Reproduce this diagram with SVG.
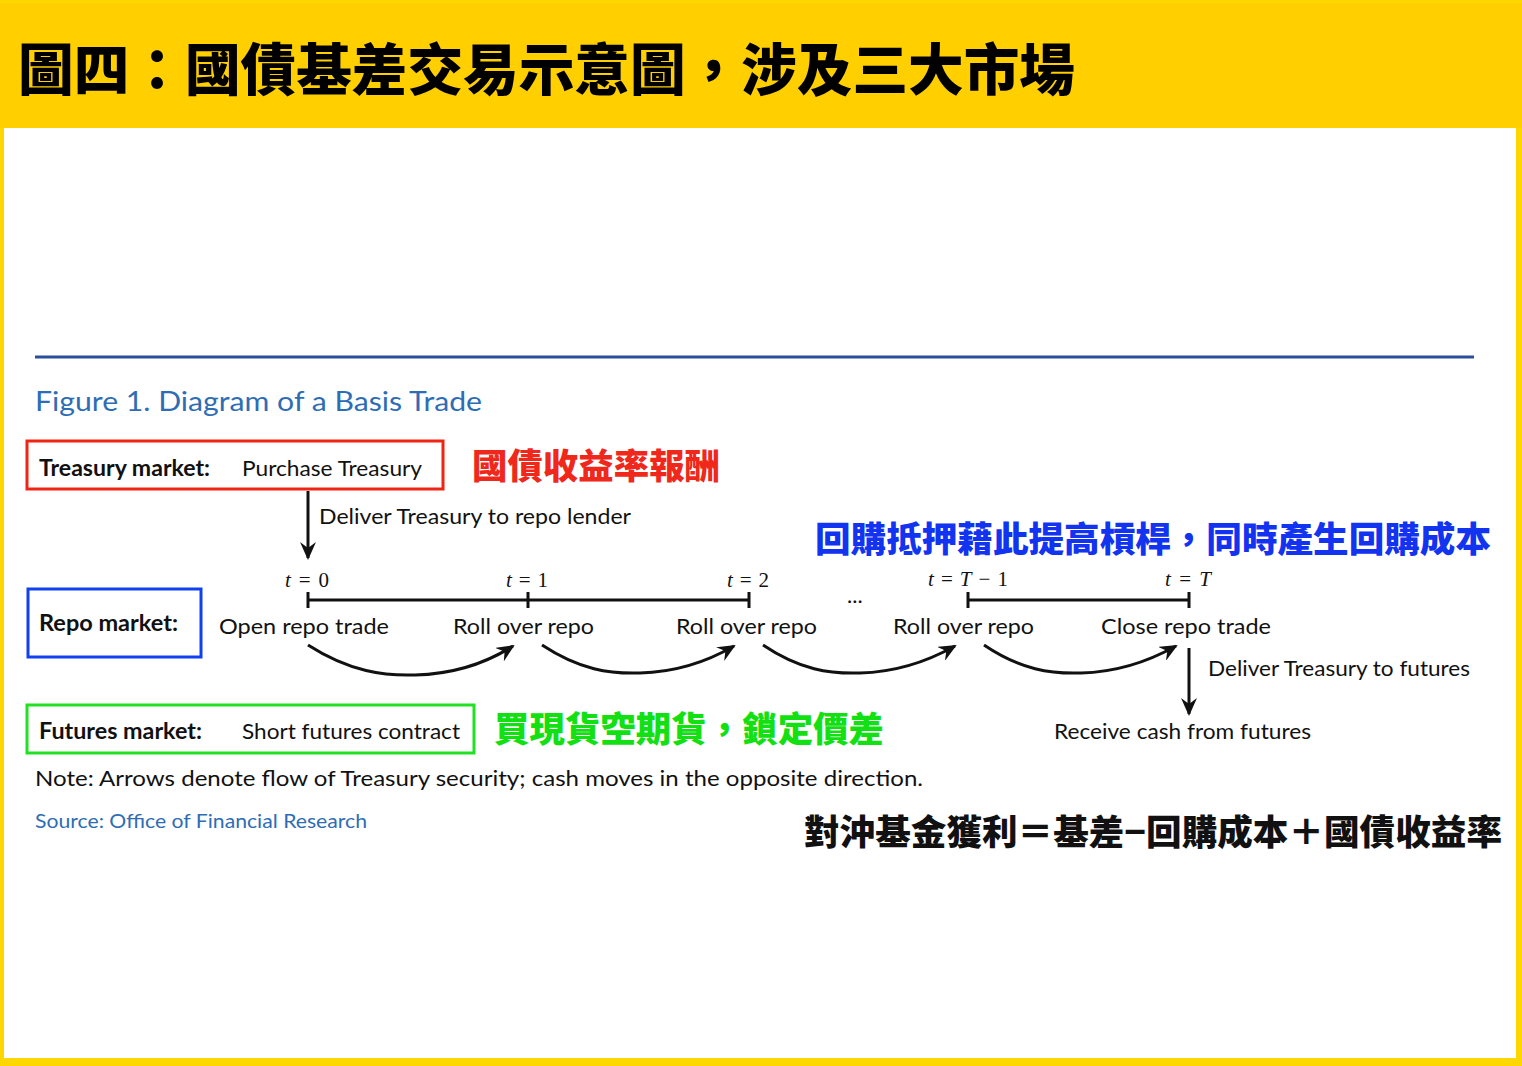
<svg xmlns="http://www.w3.org/2000/svg" width="1522" height="1066" viewBox="0 0 1522 1066">
<style>
.en{font-family:Lato,"Noto Sans","Liberation Sans",sans-serif;font-size:22px;fill:#111}
.bold{font-weight:bold}
.cjk{font-family:"Noto Sans CJK TC","Noto Sans CJK SC",sans-serif;font-weight:900}
.math{font-family:"Liberation Serif","DejaVu Serif",serif;font-size:21px;fill:#111}
.box{fill:none;stroke-width:3}
.ln{fill:none;stroke:#111;stroke-width:3}
.head{fill:#111;stroke:none}
</style>
<defs>
<marker id="ah" viewBox="0 0 18 16" refX="16" refY="8" markerWidth="18" markerHeight="16" markerUnits="userSpaceOnUse" orient="auto">
<path class="head" d="M0,0 L18,8 L0,16 L6,8 Z"/>
</marker>
</defs>
<rect x="0" y="0" width="1522" height="1066" fill="#FFD700"/>
<rect x="0" y="3" width="1522" height="125" fill="#FFCF00"/>
<rect x="4" y="128" width="1512" height="930" fill="#fff"/>
<g id="title">
<text class="cjk" x="18" y="90" font-size="56" textLength="1057" lengthAdjust="spacingAndGlyphs" fill="#000">圖四：國債基差交易示意圖，涉及三大市場</text>
</g>
<line x1="35" y1="357" x2="1474" y2="357" stroke="#2B4E9C" stroke-width="3"/>
<g id="fig-title"><text class="en" x="35" y="411" style="font-size:27px;fill:#2E6DB4" textLength="447" lengthAdjust="spacingAndGlyphs">Figure 1. Diagram of a Basis Trade</text></g>

<g id="treasury-market">
<rect class="box" x="27" y="441" width="416" height="48" stroke="#F02414"/>
<text class="en bold" x="39" y="476" textLength="171" lengthAdjust="spacingAndGlyphs">Treasury market:</text>
<text class="en" x="242" y="476" textLength="180" lengthAdjust="spacingAndGlyphs">Purchase Treasury</text>
</g>
<g id="note-red"><text class="cjk" x="472" y="479" font-size="35" fill="#F0281C" textLength="248" lengthAdjust="spacingAndGlyphs">國債收益率報酬</text></g>
<g id="note-blue"><text class="cjk" x="815" y="552" font-size="35" fill="#1234F0" textLength="676" lengthAdjust="spacingAndGlyphs">回購抵押藉此提高槓桿，同時產生回購成本</text></g>

<g id="repo-market">
<rect class="box" x="28" y="589" width="173" height="68" stroke="#1040F0"/>
<text class="en bold" x="39" y="631" textLength="139" lengthAdjust="spacingAndGlyphs">Repo market:</text>
</g>
<g id="timeline">
<text class="math" x="285" y="587" textLength="44" lengthAdjust="spacing"><tspan font-style="italic">t</tspan> = 0</text>
<text class="math" x="506" y="587" textLength="42" lengthAdjust="spacing"><tspan font-style="italic">t</tspan> = 1</text>
<text class="math" x="727" y="587" textLength="42" lengthAdjust="spacing"><tspan font-style="italic">t</tspan> = 2</text>
<text class="math" x="928" y="586" textLength="80" lengthAdjust="spacing"><tspan font-style="italic">t</tspan> = <tspan font-style="italic">T</tspan> − 1</text>
<text class="math" x="1165" y="586" textLength="46" lengthAdjust="spacing"><tspan font-style="italic">t</tspan> = <tspan font-style="italic">T</tspan></text>
<path class="ln" d="M308,600 H749 M308,592 V608 M528,592 V608 M749,592 V608 M968,600 H1189 M968,592 V608 M1189,592 V608"/>
<text class="en" x="847" y="603">...</text>
</g>
<g id="repo-steps">
<text class="en" x="219" y="634" textLength="170" lengthAdjust="spacingAndGlyphs">Open repo trade</text>
<text class="en" x="453" y="634" textLength="141" lengthAdjust="spacingAndGlyphs">Roll over repo</text>
<text class="en" x="676" y="634" textLength="141" lengthAdjust="spacingAndGlyphs">Roll over repo</text>
<text class="en" x="893" y="634" textLength="141" lengthAdjust="spacingAndGlyphs">Roll over repo</text>
<text class="en" x="1101" y="634" textLength="170" lengthAdjust="spacingAndGlyphs">Close repo trade</text>
</g>
<g id="futures-market">
<rect class="box" x="27" y="705" width="447" height="48" stroke="#22E022"/>
<text class="en bold" x="39" y="739" textLength="163" lengthAdjust="spacingAndGlyphs">Futures market:</text>
<text class="en" x="242" y="739" textLength="218" lengthAdjust="spacingAndGlyphs">Short futures contract</text>
</g>
<g id="note-green"><text class="cjk" x="494" y="742" font-size="35" fill="#12E012" textLength="390" lengthAdjust="spacingAndGlyphs">買現貨空期貨，鎖定價差</text></g>
<g id="futures-delivery">
<text class="en" x="1208" y="676" textLength="262" lengthAdjust="spacingAndGlyphs">Deliver Treasury to futures</text>
<text class="en" x="1054" y="739" textLength="257" lengthAdjust="spacingAndGlyphs">Receive cash from futures</text>
</g>
<g id="connectors">
<line class="ln" x1="308" y1="491" x2="308" y2="558" stroke-width="2.5" marker-end="url(#ah)"/>
<text class="en" x="319" y="524" textLength="312" lengthAdjust="spacingAndGlyphs">Deliver Treasury to repo lender</text>
<path class="ln" d="M308,645 C350,672 385,676 415,675 C455,674 488,662 513,646" marker-end="url(#ah)"/>
<path class="ln" d="M542,645 C580,670 610,674 640,673 C680,672 710,660 734,646" marker-end="url(#ah)"/>
<path class="ln" d="M763,645 C800,670 830,674 860,673 C900,672 930,660 955,646" marker-end="url(#ah)"/>
<path class="ln" d="M984,645 C1021,670 1051,674 1081,673 C1121,672 1151,660 1176,646" marker-end="url(#ah)"/>
<line class="ln" x1="1189" y1="648" x2="1189" y2="714" stroke-width="2.5" marker-end="url(#ah)"/>
</g>
<g id="footer">
<text class="en" x="35" y="786" textLength="888" lengthAdjust="spacingAndGlyphs">Note: Arrows denote flow of Treasury security; cash moves in the opposite direction.</text>
<text class="en" x="35" y="828" style="font-size:19px;fill:#2E6DB4" textLength="332" lengthAdjust="spacingAndGlyphs">Source: Office of Financial Research</text>
</g>
<g id="formula"><text class="cjk" x="804" y="845" font-size="35" fill="#111" textLength="698" lengthAdjust="spacingAndGlyphs">對沖基金獲利＝基差−回購成本＋國債收益率</text></g>
</svg>
